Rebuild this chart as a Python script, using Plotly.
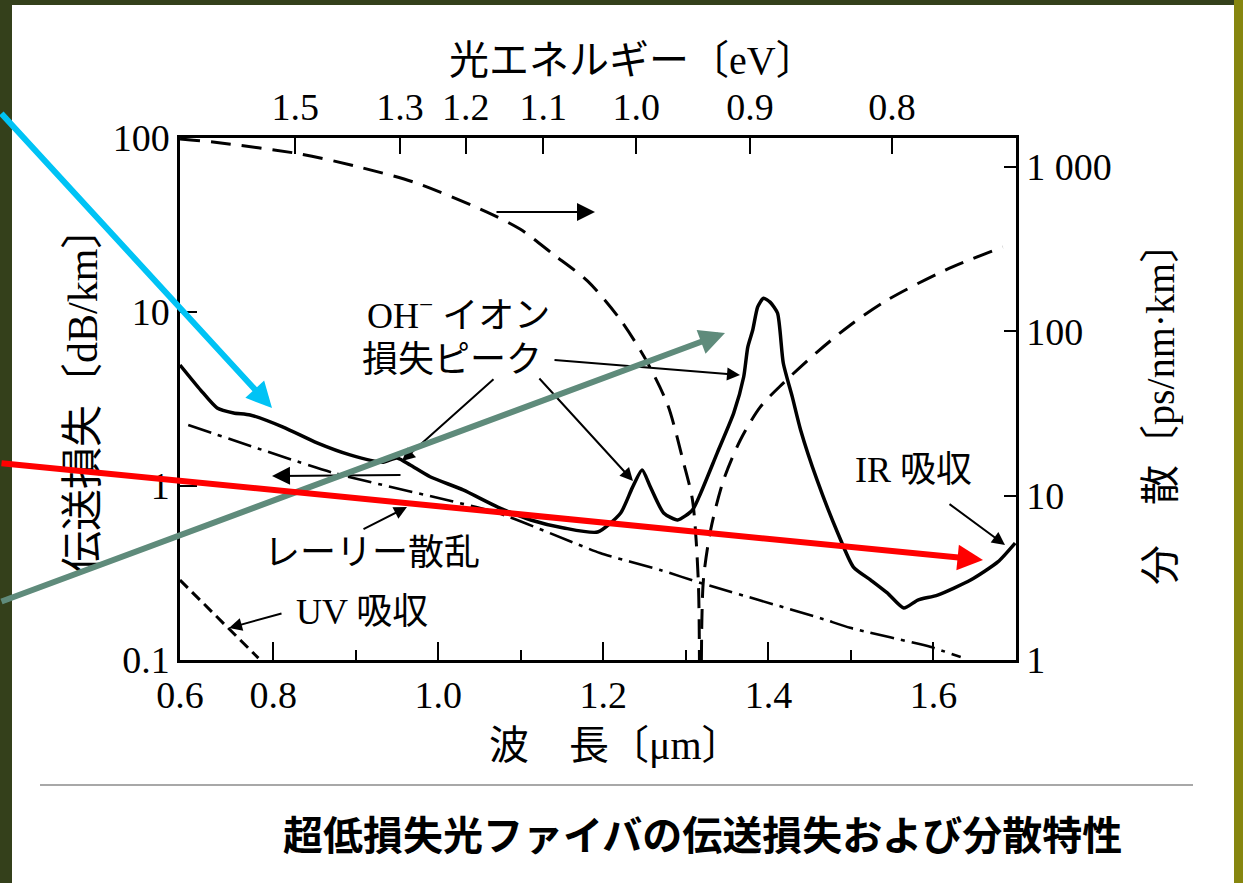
import plotly.graph_objects as go

# ---------------- data ----------------
# Total transmission loss of the fibre: wavelength [µm] vs loss [dB/km]
loss_wl = [0.687, 0.712, 0.732, 0.752, 0.772, 0.812, 0.853, 0.893, 0.933, 0.950,
           0.966, 0.990, 1.030, 1.072, 1.112, 1.152, 1.193, 1.221, 1.235, 1.247,
           1.257, 1.273, 1.290, 1.308, 1.318, 1.338, 1.358, 1.370, 1.375, 1.381,
           1.387, 1.394, 1.402, 1.411, 1.418, 1.429, 1.439, 1.459, 1.484, 1.503,
           1.524, 1.544, 1.564, 1.581, 1.605, 1.645, 1.678, 1.699]
loss_db = [4.96, 3.56, 2.81, 2.63, 2.56, 2.18, 1.77, 1.51, 1.37, 1.45,
           1.32, 1.13, 0.95, 0.757, 0.638, 0.574, 0.544, 0.700, 0.975, 1.236,
           0.987, 0.700, 0.638, 0.728, 0.912, 1.55, 2.63, 4.23, 6.29, 7.88,
           10.7, 12.0, 11.4, 9.87, 5.09, 3.24, 2.10, 1.08, 0.537, 0.342,
           0.288, 0.243, 0.199, 0.221, 0.236, 0.288, 0.366, 0.470]

# Rayleigh scattering loss
rayleigh_wl = [0.697, 0.873, 1.072, 1.196, 1.269, 1.318, 1.463, 1.499, 1.596, 1.633]
rayleigh_db = [2.24, 1.19, 0.70, 0.412, 0.329, 0.277, 0.174, 0.153, 0.119, 0.104]

# Ultraviolet absorption tail
uv_wl = [0.687, 0.736, 0.782]
uv_db = [0.288, 0.170, 0.1025]

# Chromatic dispersion magnitude [ps/nm·km], short- and long-wavelength branches
disp_short_wl = [0.687, 0.727, 0.833, 0.899, 0.970, 1.059, 1.099, 1.139, 1.181,
                 1.221, 1.253, 1.278, 1.297, 1.308, 1.315, 1.3164]
disp_short = [1480, 1419, 1200, 1014, 810, 532, 419, 295, 202,
              117, 65.0, 35.6, 16.0, 9.40, 3.06, 1.0]
disp_long_wl = [1.3188, 1.3212, 1.330, 1.3455, 1.366, 1.390, 1.418, 1.459, 1.499,
                1.544, 1.6145, 1.684]
disp_long = [1.0, 3.06, 6.18, 12.4, 21.8, 34.6, 48.4, 74.8, 109,
             155, 236, 326]

# Axis ticks
wl_ticks = [0.687, 0.8, 1.0, 1.2, 1.4, 1.6]
wl_ticklabels = ["0.6", "0.8", "1.0", "1.2", "1.4", "1.6"]
wl_minor = [0.9, 1.1, 1.3, 1.5]
energy_ev = [1.5, 1.3, 1.2, 1.1, 1.0, 0.9, 0.8]
loss_ticks = [0.1, 1, 10, 100]
loss_ticklabels = ["0.1", "1", "10", "100"]
disp_ticks = [1, 10, 100, 1000]
disp_ticklabels = ["1", "10", "100", "1 000"]

# ---------------- geometry helpers ----------------
W, H = 1243, 883
L, T, R, B = 180, 138, 1016, 660
PW, PH = R - L, B - T


def P(px, py):
    """Page pixel -> paper coordinates."""
    return (px - L) / PW, (B - py) / PH


SERIF = "Liberation Serif, Noto Sans CJK JP, serif"
JP = "Liberation Serif, Noto Sans CJK JP"

fig = go.Figure()

fig.add_trace(go.Scatter(x=loss_wl, y=loss_db, mode="lines",
                         line=dict(color="black", width=3.5, shape="spline", smoothing=0.6),
                         hoverinfo="skip"))
fig.add_trace(go.Scatter(x=rayleigh_wl, y=rayleigh_db, mode="lines",
                         line=dict(color="black", width=2.6, dash="24px,7px,4px,7px",
                                   shape="spline", smoothing=0.5),
                         hoverinfo="skip"))
fig.add_trace(go.Scatter(x=uv_wl, y=uv_db, mode="lines",
                         line=dict(color="black", width=3, dash="11px,6px"),
                         hoverinfo="skip"))
fig.add_trace(go.Scatter(x=disp_short_wl, y=disp_short, mode="lines", yaxis="y2",
                         line=dict(color="black", width=3, dash="20px,11px",
                                   shape="spline", smoothing=0.8),
                         hoverinfo="skip"))
fig.add_trace(go.Scatter(x=disp_long_wl, y=disp_long, mode="lines", yaxis="y2",
                         line=dict(color="black", width=3, dash="20px,11px",
                                   shape="spline", smoothing=0.8),
                         hoverinfo="skip"))
# photon-energy scale on the top axis
energy_wl = [1.2398 / e for e in energy_ev]
fig.add_trace(go.Scatter(x=energy_wl, y=[1] * len(energy_wl), xaxis="x2", mode="markers",
                         marker=dict(opacity=0), hoverinfo="skip"))

tickfont = dict(family=SERIF, size=38, color="black")
axis_common = dict(showgrid=False, zeroline=False, showline=True, linecolor="black",
                   linewidth=2.5, ticks="inside", tickcolor="black", tickwidth=2,
                   tickfont=tickfont)

fig.update_layout(
    width=W, height=H,
    margin=dict(l=L, r=W - R, t=T, b=H - B, pad=0),
    paper_bgcolor="white", plot_bgcolor="rgba(0,0,0,0)",
    showlegend=False,
    xaxis=dict(range=[0.687, 1.70], tickmode="array", tickvals=wl_ticks,
               ticktext=wl_ticklabels, ticklen=18,
               minor=dict(tickmode="array", tickvals=wl_minor, ticklen=10,
                          ticks="inside", tickcolor="black", tickwidth=2),
               **axis_common),
    xaxis2=dict(range=[0.687, 1.70], overlaying="x", side="top", anchor="y",
                tickmode="array", tickvals=energy_wl,
                ticktext=[f"{e:.1f}" for e in energy_ev], ticklen=16, **axis_common),
    yaxis=dict(type="log", range=[-1, 2], tickmode="array", tickvals=loss_ticks,
               ticktext=loss_ticklabels, ticklen=17, **axis_common),
    yaxis2=dict(type="log", range=[0, 3.1765], overlaying="y", side="right", anchor="x",
                tickmode="array", tickvals=disp_ticks, ticktext=disp_ticklabels,
                ticklen=12, **axis_common),
)

# ---------------- slide frame ----------------
shapes = []


def rect(x0, y0, x1, y1, color):
    a0, b0 = P(x0, y0)
    a1, b1 = P(x1, y1)
    shapes.append(dict(type="rect", xref="paper", yref="paper", x0=a0, y0=b0, x1=a1, y1=b1,
                       fillcolor=color, line=dict(width=0), layer="below"))


rect(0, 0, 1234, 5, "#34401b")
rect(0, 0, 12, H, "#34401b")
rect(1234, 0, W, H, "#86860f")
r0 = P(40, 785)
r1 = P(1193, 785)
shapes.append(dict(type="line", xref="paper", yref="paper", x0=r0[0], y0=r0[1],
                   x1=r1[0], y1=r1[1], line=dict(color="#a8a8a8", width=2)))
fig.update_layout(shapes=shapes)

# ---------------- text ----------------
ann = []


def text(px, py, s, size=36, family=JP, angle=0, bold=False):
    x, y = P(px, py)
    if bold:
        s = f"<b>{s}</b>"
    ann.append(dict(xref="paper", yref="paper", x=x, y=y, text=s, showarrow=False,
                    xanchor="center", yanchor="middle", textangle=angle,
                    font=dict(family=family, size=size, color="black")))


def arrow(tail, head, color="black", width=2, size=1.3, head_style=2):
    x, y = P(*head)
    ann.append(dict(xref="paper", yref="paper", x=x, y=y, text="", showarrow=True,
                    ax=tail[0] - head[0], ay=tail[1] - head[1],
                    arrowcolor=color, arrowwidth=width, arrowsize=size,
                    arrowhead=head_style, standoff=0, startstandoff=0))


text(632, 60, "光エネルギー〔eV〕", size=40)
text(615, 745, "波　長〔μm〕", size=40)
text(83, 390, "伝送損失〔dB/km〕", size=42, angle=-90)
text(1160, 404, "分　散〔ps/nm·km〕", size=40, angle=-90)
text(458, 313, "OH<sup>−</sup> イオン", size=36)
text(452, 360, "損失ピーク", size=36)
text(372, 553, "レーリー散乱", size=36)
text(362, 612, "UV 吸収", size=36)
text(913, 470, "IR 吸収", size=36)
text(702, 833, "超低損失光ファイバの伝送損失および分散特性", size=40,
     family="Noto Sans CJK JP", bold=True)

# curve pointers
arrow((495, 212), (595, 212), size=1.8)
arrow((402, 475), (272, 476), size=1.8)
arrow((553, 360), (740, 375))
arrow((538, 377), (633, 481))
arrow((495, 378), (402, 461))
arrow((362, 530), (407, 507))
arrow((283, 613), (229, 628))
arrow((948, 503), (1005, 545))

# highlight arrows
arrow((0, 112), (272, 408), color="#00c3f5", width=6, size=0.85)
arrow((0, 602), (725, 333), color="#5f8b7b", width=6, size=0.85)
arrow((0, 463), (983, 560), color="#ff0000", width=6, size=0.85)

fig.update_layout(annotations=ann)

fig.write_html("out.html")
